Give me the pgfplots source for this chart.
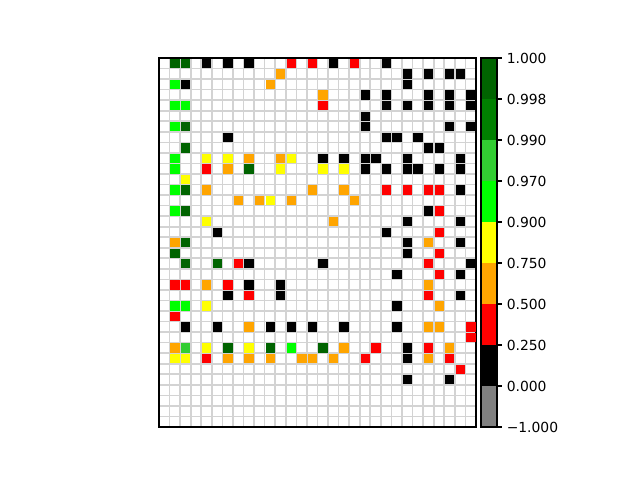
\documentclass[border=0pt]{standalone}
\usepackage{pgfplots}
\pgfplotsset{compat=1.18}
\usepackage{fontspec}
\setmainfont{DejaVu Sans}
\definecolor{cgray}{HTML}{808080}
\definecolor{cred}{HTML}{FF0000}
\definecolor{corange}{HTML}{FFA500}
\definecolor{cyellow}{HTML}{FFFF00}
\definecolor{clime}{HTML}{00FF00}
\definecolor{climegreen}{HTML}{32CD32}
\definecolor{cgreen}{HTML}{008000}
\definecolor{cdkgreen}{HTML}{006400}
\definecolor{cgrid}{HTML}{D3D3D3}
\pgfplotsset{cell/.style={only marks, mark=square*, mark size=3.0pt, mark options={line width=0.4pt}}}
\begin{document}
\begin{tikzpicture}
\path[use as bounding box] (0,0) rectangle (460.8pt,345.6pt);
\begin{axis}[
  at={(114.48pt,38.16pt)}, anchor=south west,
  scale only axis, width=228.24pt, height=265.68pt,
  xmin=-0.5, xmax=29.5, ymin=-0.5, ymax=34.5, y dir=reverse,
  xtick={-0.5,0.5,...,29.5}, ytick={-0.5,0.5,...,34.5},
  xticklabels=\empty, yticklabels=\empty,
  major tick length=0pt,
  xmajorgrids=true, ymajorgrids=true,
  major grid style={draw=cgrid, line width=1.2pt},
  axis on top,
  axis line style={line width=0.8pt},
]
\addplot[cell, color=black] table {
x y
4 0
6 0
8 0
16 0
21 0
23 1
25 1
27 1
28 1
2 2
23 2
19 3
21 3
25 3
27 3
29 3
21 4
23 4
25 4
27 4
29 4
19 5
19 6
27 6
29 6
6 7
21 7
22 7
24 7
25 8
26 8
15 9
17 9
19 9
20 9
23 9
28 9
19 10
21 10
23 10
24 10
26 10
28 10
28 12
25 14
23 15
28 15
5 16
21 16
23 17
28 17
23 18
8 19
15 19
29 19
22 20
28 20
8 21
11 21
6 22
11 22
28 22
22 23
2 25
5 25
10 25
12 25
14 25
17 25
22 25
23 27
23 28
23 30
27 30
};
\addplot[cell, color=cred] table {
x y
12 0
14 0
18 0
15 4
4 10
21 12
23 12
25 12
26 12
26 14
26 16
26 18
7 19
25 19
26 20
1 21
2 21
6 21
8 22
25 22
1 24
29 25
29 26
20 27
25 27
4 28
19 28
27 28
28 29
};
\addplot[cell, color=corange] table {
x y
11 1
10 2
15 3
8 9
11 9
6 10
4 12
14 12
17 12
7 13
9 13
12 13
18 13
16 15
1 17
25 17
4 21
25 21
26 23
8 25
25 25
26 25
1 27
17 27
27 27
6 28
8 28
10 28
13 28
14 28
16 28
25 28
};
\addplot[cell, color=cyellow] table {
x y
4 9
6 9
12 9
11 10
15 10
17 10
2 11
10 13
4 15
4 23
4 27
8 27
1 28
2 28
};
\addplot[cell, color=clime] table {
x y
1 2
1 4
2 4
1 6
1 9
1 10
1 12
1 14
1 23
2 23
12 27
};
\addplot[cell, color=climegreen] table {
x y
2 27
};
\addplot[cell, color=cdkgreen] table {
x y
1 0
2 0
2 6
2 8
8 10
2 12
2 14
2 17
1 18
2 19
5 19
6 27
10 27
15 27
};
\end{axis}
\begin{axis}[
  at={(346.32pt,38.16pt)}, anchor=south west,
  scale only axis, width=11.52pt, height=265.68pt,
  xmin=0, xmax=1, ymin=0, ymax=9,
  xtick=\empty, ytick={0,1,2,3,4,5,6,7,8,9},
  yticklabels={−1.000,0.000,0.250,0.500,0.750,0.900,0.970,0.990,0.998,1.000},
  ytick pos=right, yticklabel pos=right,
  tick align=outside, major tick length=3.5pt,
  tick style={line width=0.8pt, black},
  axis line style={line width=0.8pt},
  axis on top,
]
\addplot[fill=cgray, draw=none] coordinates {(0,0) (1,0) (1,1) (0,1)} -- cycle;
\addplot[fill=black, draw=none] coordinates {(0,1) (1,1) (1,2) (0,2)} -- cycle;
\addplot[fill=cred, draw=none] coordinates {(0,2) (1,2) (1,3) (0,3)} -- cycle;
\addplot[fill=corange, draw=none] coordinates {(0,3) (1,3) (1,4) (0,4)} -- cycle;
\addplot[fill=cyellow, draw=none] coordinates {(0,4) (1,4) (1,5) (0,5)} -- cycle;
\addplot[fill=clime, draw=none] coordinates {(0,5) (1,5) (1,6) (0,6)} -- cycle;
\addplot[fill=climegreen, draw=none] coordinates {(0,6) (1,6) (1,7) (0,7)} -- cycle;
\addplot[fill=cgreen, draw=none] coordinates {(0,7) (1,7) (1,8) (0,8)} -- cycle;
\addplot[fill=cdkgreen, draw=none] coordinates {(0,8) (1,8) (1,9) (0,9)} -- cycle;
\end{axis}
\end{tikzpicture}
\end{document}
